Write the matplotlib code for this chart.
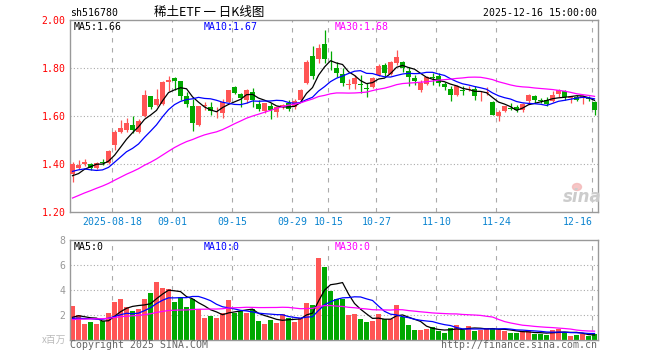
import numpy as np
import pandas as pd
import matplotlib
matplotlib.use("Agg")
import matplotlib.pyplot as plt
from matplotlib.patches import Ellipse

W, H = 660, 360
MONO = "DejaVu Sans Mono"

# daily candles, 2025-08-07 .. 2025-12-16 (National Day break Oct 1-8 skipped)
opens = [1.358, 1.382, 1.400, 1.400, 1.381, 1.405, 1.405, 1.476, 1.532, 1.541,
         1.561, 1.534, 1.597, 1.683, 1.646, 1.650, 1.742, 1.757, 1.743, 1.680,
         1.641, 1.562, 1.640, 1.635, 1.606, 1.612, 1.659, 1.721, 1.691, 1.666,
         1.700, 1.649, 1.621, 1.641, 1.617, 1.635, 1.652, 1.635, 1.666, 1.735,
         1.849, 1.835, 1.899, 1.838, 1.800, 1.775, 1.730, 1.732, 1.731, 1.716,
         1.719, 1.770, 1.811, 1.774, 1.821, 1.823, 1.785, 1.757, 1.708, 1.731,
         1.760, 1.766, 1.733, 1.712, 1.6875, 1.707, 1.709, 1.7125, 1.681, 1.695,
         1.657, 1.597, 1.618, 1.633, 1.636, 1.622, 1.660, 1.683, 1.664, 1.664,
         1.660, 1.692, 1.701, 1.675, 1.680, 1.674, 1.672, 1.656]
highs = [1.406, 1.416, 1.418, 1.402, 1.406, 1.419, 1.458, 1.540, 1.580, 1.590,
         1.597, 1.585, 1.705, 1.683, 1.710, 1.744, 1.766, 1.760, 1.743, 1.697,
         1.668, 1.641, 1.656, 1.656, 1.635, 1.668, 1.707, 1.724, 1.696, 1.710,
         1.714, 1.666, 1.655, 1.652, 1.641, 1.649, 1.666, 1.668, 1.710, 1.830,
         1.891, 1.899, 1.955, 1.870, 1.825, 1.800, 1.752, 1.768, 1.770, 1.738,
         1.760, 1.815, 1.821, 1.828, 1.874, 1.829, 1.805, 1.768, 1.747, 1.766,
         1.777, 1.777, 1.742, 1.722, 1.729, 1.725, 1.722, 1.722, 1.701, 1.719,
         1.660, 1.625, 1.642, 1.653, 1.646, 1.653, 1.692, 1.6875, 1.674, 1.678,
         1.701, 1.711, 1.708, 1.683, 1.6875, 1.6875, 1.681, 1.660]
lows = [1.322, 1.376, 1.392, 1.372, 1.376, 1.394, 1.398, 1.455, 1.529, 1.533,
        1.528, 1.529, 1.595, 1.627, 1.640, 1.645, 1.704, 1.707, 1.665, 1.636,
        1.538, 1.558, 1.624, 1.603, 1.589, 1.592, 1.655, 1.691, 1.635, 1.655,
        1.635, 1.621, 1.613, 1.585, 1.596, 1.627, 1.621, 1.627, 1.659, 1.732,
        1.752, 1.821, 1.818, 1.790, 1.763, 1.722, 1.710, 1.710, 1.696, 1.679,
        1.714, 1.764, 1.765, 1.770, 1.812, 1.781, 1.722, 1.727, 1.697, 1.727,
        1.729, 1.722, 1.708, 1.663, 1.681, 1.6875, 1.701, 1.664, 1.660, 1.6875,
        1.601, 1.576, 1.614, 1.622, 1.614, 1.614, 1.653, 1.653, 1.653, 1.642,
        1.656, 1.680, 1.667, 1.653, 1.660, 1.650, 1.660, 1.604]
closes = [1.400, 1.394, 1.409, 1.383, 1.403, 1.403, 1.455, 1.532, 1.549, 1.570,
          1.540, 1.578, 1.687, 1.637, 1.669, 1.739, 1.750, 1.743, 1.682, 1.647,
          1.571, 1.639, 1.643, 1.621, 1.608, 1.658, 1.705, 1.696, 1.673, 1.705,
          1.666, 1.627, 1.652, 1.624, 1.635, 1.645, 1.627, 1.663, 1.705, 1.825,
          1.766, 1.884, 1.835, 1.835, 1.777, 1.736, 1.733, 1.758, 1.728, 1.713,
          1.757, 1.808, 1.777, 1.823, 1.843, 1.797, 1.763, 1.743, 1.737, 1.760,
          1.757, 1.736, 1.718, 1.687, 1.725, 1.704, 1.712, 1.681, 1.684, 1.698,
          1.604, 1.617, 1.639, 1.630, 1.622, 1.650, 1.6875, 1.667, 1.662, 1.650,
          1.6875, 1.706, 1.678, 1.677, 1.667, 1.683, 1.670, 1.622]
# volume, x 百万
volumes = [2.75, 2.03, 1.31, 1.47, 1.31, 1.57, 2.16, 3.07, 3.31, 2.67,
           2.35, 2.51, 3.31, 3.79, 4.67, 4.19, 4.08, 3.07, 3.47, 2.67,
           3.31, 2.51, 1.79, 1.95, 1.79, 2.19, 3.23, 2.19, 2.35, 2.19,
           2.51, 1.55, 1.31, 1.63, 1.39, 2.11, 1.79, 1.47, 1.79, 2.99,
           2.83, 6.59, 5.87, 3.95, 3.34, 3.34, 2.00, 2.10, 1.67, 1.46,
           1.54, 2.10, 1.67, 1.67, 2.80, 1.90, 1.22, 0.82, 0.82, 0.90,
           1.06, 0.74, 0.58, 0.95, 1.22, 0.85, 1.14, 0.77, 0.85, 0.95,
           0.98, 0.85, 0.77, 0.58, 0.58, 0.69, 0.77, 0.50, 0.50, 0.42,
           0.82, 0.93, 0.64, 0.34, 0.45, 0.48, 0.37, 0.50]

# 29 sessions before the window, only used to seed the moving averages
hist_close = [1.08, 1.09, 1.10, 1.10, 1.12, 1.13, 1.14, 1.17, 1.19, 1.21,
              1.22, 1.25, 1.27, 1.25, 1.26, 1.27, 1.28, 1.29, 1.30, 1.31,
              1.33, 1.37, 1.42, 1.43, 1.38, 1.35, 1.32, 1.33, 1.35]
hist_volume = [1.0, 1.1, 0.9, 1.2, 1.3, 1.1, 1.4, 1.2, 1.5, 1.3,
               1.6, 1.4, 1.8, 1.5, 1.7, 1.9, 2.4, 2.9, 2.6, 2.2,
               1.9, 1.7, 1.5, 1.8, 1.5, 1.4, 1.7, 1.9, 1.45]

tick_dates = ["2025-08-18", "2025-09-01", "2025-09-15", "2025-09-29", "2025-10-15",
              "2025-10-27", "2025-11-10", "2025-11-24", "2025-12-16"]
tick_labels = ["2025-08-18", "09-01", "09-15", "09-29", "10-15",
               "10-27", "11-10", "11-24", "12-16"]

days = pd.bdate_range("2025-08-07", "2025-12-16")
days = days[(days < "2025-10-01") | (days > "2025-10-08")]
n = len(closes)
x = np.arange(n)
tick_pos = [days.get_loc(pd.Timestamp(d)) - 0.37 for d in tick_dates]

RED, GREEN = "#ff5555", "#00a800"
up = np.array(closes) >= np.array(opens)
colors = [RED if u else GREEN for u in up]


def ma(hist, vals, k):
    s = pd.Series(list(hist) + list(vals)).rolling(k).mean()
    return s.iloc[-len(vals):].to_numpy()


fig = plt.figure(figsize=(W / 100, H / 100), dpi=100)
ax = fig.add_axes([70.3 / W, 1 - 211.7 / H, 527.4 / W, 192 / H])
axv = fig.add_axes([70.3 / W, 1 - 340.3 / H, 527.4 / W, 100 / H])

for a in (ax, axv):
    a.set_xlim(-0.37, 87.53)
    for sp in a.spines.values():
        sp.set_color("#999999")
        sp.set_linewidth(1.0)
    for p in tick_pos:
        a.axvline(p, color="#aaaaaa", lw=0.8, ls=(0, (4, 5)), zorder=0)
    a.tick_params(length=0)

# price panel
ax.set_ylim(1.20, 2.00)
for y in [1.4, 1.6, 1.8]:
    ax.axhline(y, color="#aaaaaa", lw=0.8, ls=(0, (1, 2)), zorder=0)
ax.vlines(x, lows, highs, colors=colors, lw=0.9, zorder=2)
body_lo = np.minimum(opens, closes)
body_h = np.maximum(np.abs(np.array(closes) - np.array(opens)), 0.003)
ax.bar(x, body_h, bottom=body_lo, width=0.75, color=colors, zorder=3)

ma5 = ma(hist_close, closes, 5)
ma10 = ma(hist_close, closes, 10)
ma30 = ma(hist_close, closes, 30)
ax.plot(x, ma5, color="black", lw=0.9, zorder=4)
ax.plot(x, ma10, color="#0000ff", lw=0.9, zorder=4)
ax.plot(x, ma30, color="#ff00ff", lw=0.9, zorder=4)

ax.set_yticks([1.2, 1.4, 1.6, 1.8, 2.0])
ax.set_yticklabels([f"{v:.2f}" for v in [1.2, 1.4, 1.6, 1.8, 2.0]],
                   color="red", fontsize=7.1, family=MONO)
ax.tick_params(axis="y", pad=3.3)
ax.set_xticks(tick_pos)
ax.set_xticklabels(tick_labels, color="#0a84d0", fontsize=7.1, family=MONO)
ax.tick_params(axis="x", pad=4)
# the last date sits at the right edge, so it is drawn to the left of its line
ax.get_xticklabels()[-1].set_horizontalalignment("right")

# volume panel
axv.set_ylim(0, 8)
for y in [2, 4, 6]:
    axv.axhline(y, color="#aaaaaa", lw=0.8, ls=(0, (1, 2)), zorder=0)
axv.bar(x, volumes, width=0.8, color=colors, zorder=2)
axv.plot(x, ma(hist_volume, volumes, 5), color="black", lw=0.9, zorder=3)
axv.plot(x, ma(hist_volume, volumes, 10), color="#0000ff", lw=0.9, zorder=3)
axv.plot(x, ma(hist_volume, volumes, 30), color="#ff00ff", lw=0.9, zorder=3)
axv.set_yticks([2, 4, 6, 8])
axv.set_yticklabels(["2", "4", "6", "8"], color="#999999", fontsize=7.1, family=MONO)
axv.tick_params(axis="y", pad=3.3)
axv.set_xticks([])


def ftext(px, py, s, **kw):
    kw.setdefault("family", MONO)
    kw.setdefault("fontsize", 7.1)
    kw.setdefault("va", "center")
    fig.text(px / W, 1 - py / H, s, **kw)


ftext(70, 13, "sh516780", color="black")
ftext(209, 12.5, "稀土ETF 一 日K线图", ha="center", fontsize=9,
      family=["Noto Sans CJK SC", "DejaVu Sans"], color="black")
ftext(597, 13, "2025-12-16 15:00:00", ha="right", color="black")

ftext(74, 26.5, f"MA5:{ma5[-1]:.2f}", color="black")
ftext(204, 26.5, f"MA10:{ma10[-1]:.2f}", color="#0000ff")
ftext(335, 26.5, f"MA30:{ma30[-1]:.2f}", color="#ff00ff")

ftext(74, 246.5, "MA5:0", color="black")
ftext(204, 246.5, "MA10:0", color="#0000ff")
ftext(335, 246.5, "MA30:0", color="#ff00ff")

ftext(66, 340, "x百万", ha="right", color="#bbbbbb",
      family=["Noto Sans CJK SC", "DejaVu Sans"], fontsize=7)
ftext(70, 345.5, "Copyright 2025 SINA.COM", color="#666666")
ftext(597, 345.5, "http://finance.sina.com.cn", ha="right", color="#666666")

# faint sina watermark
ftext(582, 197, "sina", ha="center", color="#cccccc", fontsize=12,
      family="DejaVu Sans", fontstyle="italic", fontweight="bold")
fig.patches.append(Ellipse((577 / W, 1 - 187 / H), 9 / W, 7 / H,
                           transform=fig.transFigure, color="#f4b8b8", alpha=0.8))

fig.savefig("out.png", dpi=100)
